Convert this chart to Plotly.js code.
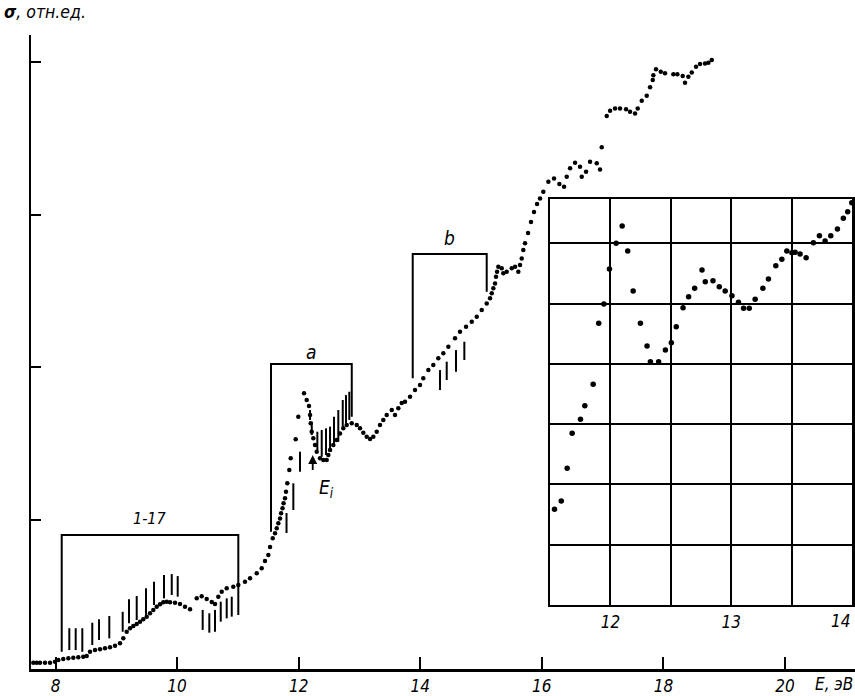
<!DOCTYPE html>
<html>
<head>
<meta charset="utf-8">
<script src="https://cdn.plot.ly/plotly-3.0.1.min.js"></script>
<style>html,body{margin:0;padding:0;background:#fff;}#chart{width:855px;height:696px;}</style>
</head>
<body>
<div id="chart"></div>
<script>
// Main curve: E (eV) and sigma (rel. units)
const mainE = [7.635,7.691,7.745,7.827,7.910,7.992,8.046,8.128,8.211,8.293,8.375,8.457,8.513,8.568,8.650,8.732,8.814,8.897,8.979,9.061,
9.115,9.171,9.226,9.280,9.336,9.390,9.444,9.500,9.555,9.609,9.665,9.719,9.773,9.829,9.884,9.966,10.048,10.130,10.213,10.323,
10.405,10.487,10.570,10.624,10.678,10.734,10.816,10.925,11.007,11.117,11.200,11.310,11.392,11.446,11.501,11.529,11.573,11.611,11.639,11.665,
11.693,11.710,11.734,11.751,11.775,11.792,11.813,11.846,11.869,11.951,11.994,12.088,12.132,12.170,12.187,12.198,12.214,12.241,12.269,12.297,
12.351,12.405,12.461,12.488,12.516,12.570,12.626,12.680,12.734,12.790,12.873,12.955,13.009,13.063,13.119,13.174,13.228,13.284,13.338,13.392,
13.448,13.531,13.585,13.639,13.695,13.749,13.832,13.914,13.996,14.050,14.133,14.215,14.297,14.379,14.462,14.572,14.654,14.753,14.847,14.929,
15.011,15.093,15.148,15.176,15.202,15.230,15.246,15.263,15.284,15.340,15.366,15.422,15.505,15.559,15.613,15.641,15.669,15.695,15.723,15.773,
15.822,15.871,15.921,15.970,16.024,16.107,16.200,16.288,16.365,16.409,16.464,16.546,16.628,16.656,16.727,16.793,16.903,16.957,16.985,17.067,
17.122,17.204,17.286,17.385,17.451,17.533,17.577,17.643,17.725,17.780,17.824,17.834,17.878,17.956,18.026,18.163,18.229,18.317,18.355,18.410,
18.466,18.536,18.602,18.684,18.739,18.795];
const mainS = [0.064,0.064,0.064,0.064,0.064,0.071,0.082,0.088,0.093,0.097,0.100,0.104,0.108,0.136,0.147,0.152,0.159,0.165,0.176,0.191,
0.224,0.267,0.290,0.305,0.318,0.333,0.349,0.366,0.388,0.410,0.431,0.447,0.460,0.464,0.460,0.457,0.449,0.431,0.414,0.486,
0.499,0.482,0.462,0.449,0.497,0.529,0.552,0.562,0.573,0.595,0.617,0.650,0.683,0.731,0.770,0.822,0.879,0.912,0.945,0.978,
1.010,1.043,1.076,1.109,1.142,1.185,1.240,1.327,1.404,1.528,1.676,1.830,1.786,1.746,1.687,1.633,1.578,1.535,1.491,1.447,
1.404,1.393,1.393,1.425,1.458,1.491,1.524,1.567,1.600,1.622,1.633,1.622,1.600,1.571,1.545,1.530,1.545,1.578,1.622,1.655,
1.687,1.720,1.687,1.731,1.766,1.775,1.807,1.851,1.884,1.928,1.982,2.015,2.059,2.092,2.135,2.190,2.233,2.266,2.299,2.332,
2.375,2.419,2.452,2.485,2.518,2.550,2.594,2.626,2.659,2.649,2.616,2.626,2.649,2.659,2.626,2.670,2.714,2.769,2.813,2.880,
2.952,3.018,3.070,3.107,3.151,3.216,3.238,3.201,3.183,3.249,3.304,3.341,3.315,3.249,3.282,3.347,3.337,3.297,3.442,3.647,
3.681,3.697,3.697,3.691,3.675,3.664,3.697,3.747,3.780,3.835,3.883,3.915,3.953,3.937,3.927,3.920,3.920,3.909,3.865,3.904,
3.933,3.970,3.988,3.992,3.996,4.014];

// Vertical hatch marks (transition positions)
const hatchE   = [8.227,8.332,8.441,8.605,8.716,8.885,9.105,9.209,9.336,9.489,9.620,9.785,9.912,10.010,
                  10.421,10.530,10.624,10.718,10.816,10.899,
                  11.800,11.912,12.022,12.187,12.215,12.307,12.379,12.450,12.516,12.581,12.652,12.725,12.779,12.833,
                  14.325,14.435,14.588,14.725];
const hatchTop = [0.290,0.290,0.290,0.326,0.349,0.370,0.398,0.480,0.501,0.552,0.595,0.639,0.645,0.632,
                  0.410,0.388,0.410,0.464,0.486,0.497,
                  1.045,1.240,1.447,1.720,1.643,1.578,1.589,1.600,1.611,1.676,1.720,1.786,1.818,1.840,
                  1.982,2.037,2.113,2.168];
const hatchBot = [0.147,0.147,0.136,0.180,0.213,0.224,0.267,0.322,0.344,0.377,0.442,0.486,0.508,0.497,
                  0.279,0.261,0.267,0.333,0.355,0.366,
                  0.914,1.065,1.316,1.655,1.556,1.458,1.414,1.425,1.447,1.480,1.512,1.611,1.633,1.655,
                  1.851,1.917,1.971,2.048];

// Brackets
const bracketLabels = ['1-17','a','b'];
const bracketLeftE  = [8.102,11.545,13.876];
const bracketRightE = [11.007,12.873,15.093];
const bracketTopS   = [0.901,2.022,2.742];
const bracketLeftBot  = [0.136,0.923,1.928];
const bracketRightBot = [0.377,1.676,2.495];
const bracketLabelE = [9.554,12.203,14.473];
const bracketLabelS = [1.012,2.100,2.847];

// Ionization arrow
const arrowE = 12.231, arrowFrom = 1.261, arrowTo = 1.425;
const eiLabelE = 12.45, eiLabelS = 1.209;

// Inset data (E 11.5-14 eV)
const insetE = [11.537,11.593,11.642,11.683,11.752,11.788,11.857,11.903,11.945,11.992,12.047,12.097,12.143,12.188,12.248,12.303,12.331,12.399,12.455,12.504,
12.545,12.601,12.647,12.697,12.758,12.785,12.849,12.901,12.950,13.006,13.060,13.102,13.149,13.198,13.262,13.308,13.369,13.419,13.460,13.502,
13.529,13.570,13.620,13.680,13.730,13.777,13.824,13.879,13.928,13.964,13.998];
const insetV = [1.587,1.725,2.267,2.847,3.080,3.305,3.660,4.672,4.992,5.572,5.998,6.285,5.871,5.207,4.672,4.295,4.035,4.035,4.229,4.350,
4.615,4.930,5.113,5.252,5.556,5.362,5.378,5.279,5.207,5.129,5.020,4.920,4.920,5.070,5.252,5.406,5.627,5.733,5.871,5.842,
5.849,5.821,5.760,6.008,6.124,6.036,6.124,6.235,6.413,6.522,6.672];

const mainTicks = [8,10,12,14,16,18,20];
const insetTicks = [12,13];      // labelled by the axis
const insetEdgeTick = 14;        // labelled at the right border

const FONT = 'DejaVu Sans Condensed, Liberation Sans Narrow, DejaVu Sans, sans-serif';

// build hatch trace
const hx = [], hy = [];
hatchE.forEach((e,i)=>{ hx.push(e,e,null); hy.push(hatchTop[i],hatchBot[i],null); });
const bx = [], by = [];
bracketLeftE.forEach((e,i)=>{
  bx.push(e,e,bracketRightE[i],bracketRightE[i],null);
  by.push(bracketLeftBot[i],bracketTopS[i],bracketTopS[i],bracketRightBot[i],null);
});

const traces = [
  {x: mainE, y: mainS, mode:'markers', type:'scatter', marker:{color:'#000', size:4.5}, xaxis:'x', yaxis:'y', hoverinfo:'skip'},
  {x: hx, y: hy, mode:'lines', type:'scatter', line:{color:'#000', width:2}, xaxis:'x', yaxis:'y', hoverinfo:'skip'},
  {x: bx, y: by, mode:'lines', type:'scatter', line:{color:'#000', width:2}, xaxis:'x', yaxis:'y', hoverinfo:'skip'},
  {x: insetE, y: insetV, mode:'markers', type:'scatter', marker:{color:'#000', size:5.5}, xaxis:'x2', yaxis:'y2', hoverinfo:'skip'}
];

const annotations = bracketLabels.map((t,i)=>({
  x: bracketLabelE[i], y: bracketLabelS[i], xref:'x', yref:'y', text: t, showarrow:false,
  font:{family:FONT, size: i===0?16:19, color:'#000', style:'italic'}
}));
annotations.push({x: arrowE, y: arrowTo, ax: arrowE, ay: arrowFrom, xref:'x', yref:'y', axref:'x', ayref:'y',
  text:' ', showarrow:true, arrowhead:2, arrowsize:1, arrowwidth:1.8, arrowcolor:'#000'});
annotations.push({x: eiLabelE, y: eiLabelS, xref:'x', yref:'y', text:'E<sub>i</sub>', showarrow:false,
  font:{family:FONT, size:19, color:'#000', style:'italic'}});
annotations.push({x: -0.035, y: 1.036, xref:'paper', yref:'paper', xanchor:'left', yanchor:'middle',
  text:'<b>σ</b>, отн.ед.', showarrow:false, font:{family:FONT, size:17.5, color:'#000', style:'italic'}});
annotations.push({x: 1.0, y: -0.024, xref:'paper', yref:'paper', xanchor:'right', yanchor:'middle',
  text:'E, эВ', showarrow:false, font:{family:FONT, size:17, color:'#000', style:'italic'}});
annotations.push({x: insetEdgeTick, y: 0.0757, xref:'x2', yref:'paper', xanchor:'right', yanchor:'middle',
  text: String(insetEdgeTick), showarrow:false, font:{family:FONT, size:17, color:'#000', style:'italic'}});

const layout = {
  width:855, height:696,
  margin:{l:31, r:0, t:35, b:27, pad:0},
  paper_bgcolor:'#fff', plot_bgcolor:'rgba(0,0,0,0)',
  showlegend:false,
  xaxis:{domain:[0,1], range:[7.597,21.151], showgrid:false, zeroline:false, showline:true, linecolor:'#000', linewidth:2.5,
    tickvals: mainTicks, ticktext: mainTicks.map(String), ticks:'inside', ticklen:12, tickwidth:2, tickcolor:'#000',
    tickfont:{family:FONT, size:17, color:'#000', style:'italic'}, anchor:'y'},
  yaxis:{domain:[0,1], range:[0.0229,4.178], showgrid:false, zeroline:false, showline:true, linecolor:'#000', linewidth:2.5,
    tickvals:[1,2,3,4], ticks:'inside', ticklen:10, tickwidth:2, tickcolor:'#000', showticklabels:false, anchor:'x'},
  xaxis2:{domain:[0.6299,0.9964], range:[11.5,14], anchor:'y2', showgrid:true, gridcolor:'#000', gridwidth:2,
    tickvals: insetTicks, ticktext: insetTicks.map(String), ticks:'', showline:true, mirror:true, linecolor:'#000', linewidth:2.5, zeroline:false,
    minor:{dtick:0.5, tick0:11.5, showgrid:true, gridcolor:'#000', gridwidth:2, ticks:''},
    tickfont:{family:FONT, size:17, color:'#000', style:'italic'}},
  yaxis2:{domain:[0.101,0.741], range:[0,6.73], anchor:'x2', showgrid:true, gridcolor:'#000', gridwidth:2,
    tickvals:[1,2,3,4,5,6], showticklabels:false, ticks:'', showline:true, mirror:true, linecolor:'#000', linewidth:2.5, zeroline:false},
  annotations: annotations
};

Plotly.newPlot('chart', traces, layout, {staticPlot:true, displayModeBar:false});
</script>
</body>
</html>
